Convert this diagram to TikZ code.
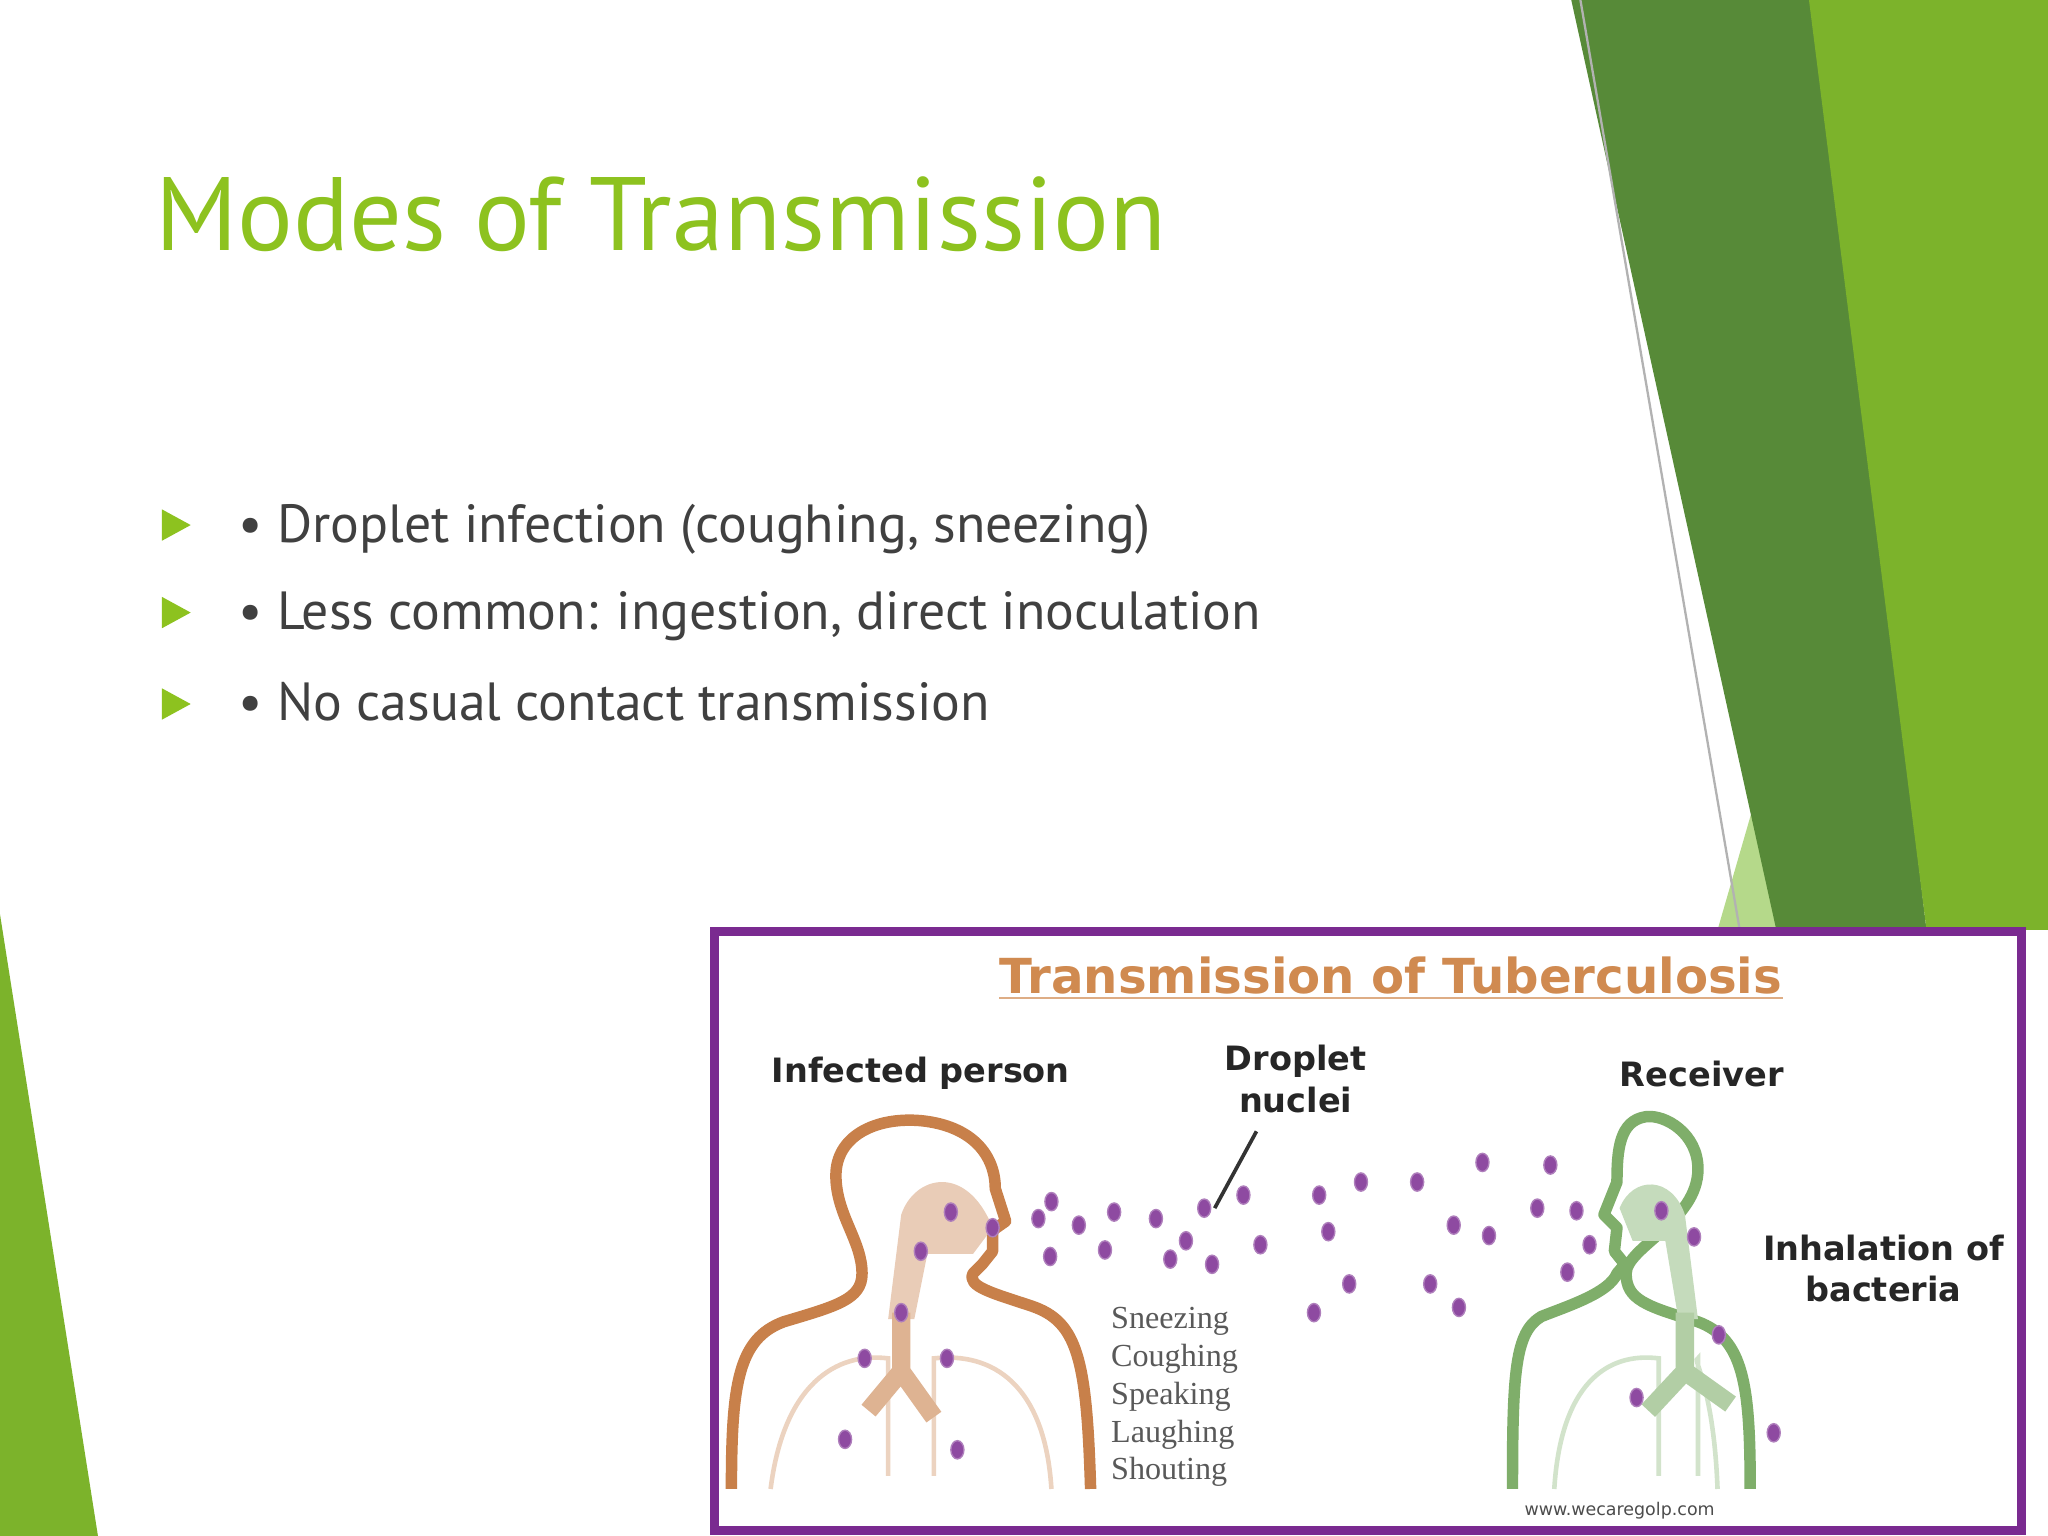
\documentclass[tikz,border=0pt]{standalone}
\usepackage{fontspec}
\setmainfont{PT Sans}
\newfontfamily\imgfont{DejaVu Sans}
\newfontfamily\serfont{Liberation Serif}
\definecolor{tgreen}{HTML}{8DC21F}
\definecolor{dgreen}{HTML}{578A38}
\definecolor{bgreen}{HTML}{7CB32B}
\definecolor{lgreen}{HTML}{B5D98A}
\definecolor{txt}{HTML}{404040}
\definecolor{brn}{HTML}{C8804A}
\definecolor{rgreen}{HTML}{7FAE6A}
\definecolor{purp}{HTML}{7A2A90}
\definecolor{imgt}{HTML}{D08A50}
\tikzset{
 bul/.style={anchor=base west,text=txt,font=\fontsize{11.7}{14}\selectfont},
 tri/.style={fill=tgreen,draw=none},
 lab/.style={font=\imgfont\bfseries\fontsize{7.3}{9}\selectfont,text=black!85,align=center},
 dot/.style={fill=purp!85,draw=purp!60!white,line width=0.3pt},
}
\begin{document}
\begin{tikzpicture}[x=0.01cm,y=-0.01cm]
\useasboundingbox (0,0) rectangle (1568,1176);
\fill[white] (0,0) rectangle (1568,1176);
% decorative right
\fill[lgreen] (1315,712) -- (1385,470) -- (1440,712) -- cycle;
\fill[dgreen] (1203,0) -- (1390,0) -- (1475,712) -- (1360,712) -- cycle;
\fill[bgreen] (1385,0) -- (1568,0) -- (1568,712) -- (1475,712) -- cycle;
\draw[gray!60,line width=0.5pt] (1210,0) -- (1332,712);
% left triangle
\fill[bgreen] (0,700) -- (75,1176) -- (0,1176) -- cycle;
% title
\node[anchor=base west,text=tgreen,font=\fontsize{22.7}{26}\selectfont,inner sep=0] (title) at (118,192) {Modes of Transmission};
% bullets
\foreach \y/\t [count=\i] in {403/{• Droplet infection (coughing, sneezing)},470/{• Less common: ingestion, direct inoculation},540/{• No casual contact transmission}}{
 \fill[tri] (124,\y-13) -- (146,\y-1) -- (124,\y+11) -- cycle;
 \node[bul,inner sep=0] (b\i) at (182,\y+12) {\t};
}
% image
\draw[purp,line width=2pt,fill=white] (547,713) rectangle (1548,1172);
\node[font=\imgfont\bfseries\fontsize{10.5}{12}\selectfont,text=imgt] (it) at (1065,747) {Transmission of Tuberculosis};
\draw[imgt!70,line width=0.5pt] (765,764) -- (1365,764);
\node[lab] (inf) at (705,822) {Infected person};
\node[lab] (dn) at (992,826) {Droplet\\nuclei};
\node[lab] (rec) at (1303,822) {Receiver};
\node[lab] (inh) at (1442,971) {Inhalation of\\bacteria};
\node[font=\serfont\fontsize{7}{8.25}\selectfont,text=black!65,align=left,anchor=north west,inner sep=0] (lst) at (850,1000) {Sneezing\\Coughing\\Speaking\\Laughing\\Shouting};
\node[font=\imgfont\fontsize{3.8}{5}\selectfont,text=black!70] (www) at (1240,1157) {www.wecaregolp.com};
% infected person
\draw[brn,line width=2.5pt,line join=round] (560,1140) .. controls (560,1060) and (565,1025) .. (600,1012) .. controls (640,1000) and (660,995) .. (660,975) .. controls (660,950) and (640,930) .. (640,900) .. controls (640,870) and (670,855) .. (705,858) .. controls (745,862) and (762,885) .. (762,910) -- (770,935) -- (760,942) -- (760,958) -- (752,968) -- (745,975) .. controls (740,985) and (760,990) .. (790,1000) .. controls (825,1012) and (832,1040) .. (835,1140);
\fill[brn!40] (690,930) .. controls (700,900) and (740,890) .. (760,940) -- (745,960) -- (710,960) -- (700,1010) -- (680,1010) -- cycle;
\draw[brn!35,line width=1pt] (590,1140) .. controls (600,1060) and (640,1035) .. (680,1040) -- (680,1130) ;
\draw[brn!35,line width=1pt] (805,1140) .. controls (800,1060) and (760,1035) .. (715,1040) -- (715,1130);
\draw[brn!60,line width=4pt] (690,1005) -- (690,1050) -- (665,1080) (690,1050) -- (715,1085);
% receiver (facing left)
\draw[rgreen,line width=2.5pt,line join=round] (1340,1140) .. controls (1340,1060) and (1335,1025) .. (1300,1012) .. controls (1260,1000) and (1245,995) .. (1245,975) .. controls (1245,955) and (1300,935) .. (1300,895) .. controls (1300,868) and (1275,853) .. (1260,855) .. controls (1240,858) and (1238,880) .. (1238,905) -- (1228,930) -- (1238,940) -- (1236,958) -- (1244,968) -- (1238,975) .. controls (1232,990) and (1200,1000) .. (1180,1008) .. controls (1160,1020) and (1158,1050) .. (1158,1140);
\fill[rgreen!45] (1240,925) .. controls (1250,900) and (1280,900) .. (1290,930) -- (1300,1010) -- (1285,1010) -- (1275,950) -- (1250,950) -- cycle;
\draw[rgreen!35,line width=1pt] (1190,1140) .. controls (1195,1060) and (1230,1035) .. (1270,1040) -- (1270,1130);
\draw[rgreen!35,line width=1pt] (1315,1140) .. controls (1312,1060) and (1295,1040) .. (1300,1040) -- (1300,1130);
\draw[rgreen!60,line width=4pt] (1290,1005) -- (1290,1050) -- (1262,1080) (1290,1050) -- (1325,1075);
% pointer
\coordinate (pt) at (930,925);
\draw[black!80,line width=0.8pt] (dn.south) ++(-30,2) -- (pt);
% dots
\foreach \x/\y in {728/928,705/958,760/940,690/1005,662/1040,725/1040,647/1102,733/1110,795/933,805/920,826/938,853/928,885/933,922/925,952/915,804/962,846/957,896/964,908/950,928/968,965/953,1010/915,1042/905,1085/905,1135/890,1187/892,1017/943,1113/938,1140/946,1177/925,1207/927,1217/953,1200/974,1033/983,1095/983,1117/1001,1006/1005,1272/927,1297/947,1316/1022,1253/1070,1358/1097}
 \draw[dot] (\x,\y) ellipse (5 and 7);
\end{tikzpicture}
\end{document}
